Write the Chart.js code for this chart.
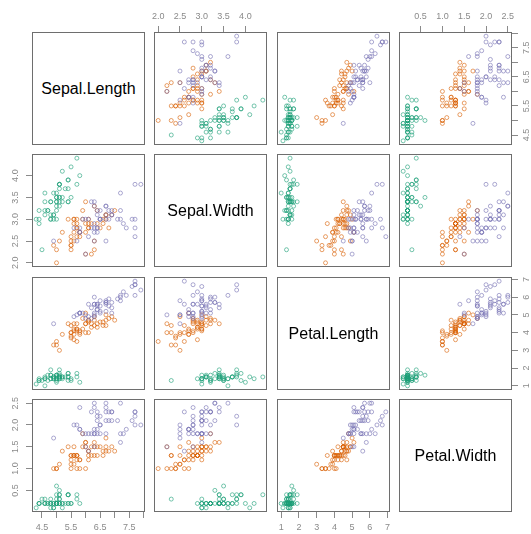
<!DOCTYPE html>
<html>
<head>
<meta charset="utf-8">
<script src="https://cdn.jsdelivr.net/npm/chart.js@4"></script>
<style>
  body { margin: 0; background: #fff; }
  #wrap { position: relative; width: 531px; height: 534px; font-family: "Liberation Sans", Arial, sans-serif; }
  #wrap canvas { position: absolute; }
  .diag {
    position: absolute; box-sizing: border-box; border: 1px solid #6e6e6e;
    display: flex; align-items: center; justify-content: center;
    font-size: 16px; color: #000;
  }
</style>
</head>
<body>
<div id="wrap"></div>
<script>
const varNames = ["Sepal.Length", "Sepal.Width", "Petal.Length", "Petal.Width"];
const species = ["setosa", "versicolor", "virginica"];
const perSpecies = 50;
const speciesColors = ["27,158,119", "217,95,2", "117,112,179"];

const sepalLength = [
  5.1,4.9,4.7,4.6,5.0,5.4,4.6,5.0,4.4,4.9,5.4,4.8,4.8,4.3,5.8,5.7,5.4,5.1,5.7,5.1,5.4,5.1,4.6,5.1,4.8,
  5.0,5.0,5.2,5.2,4.7,4.8,5.4,5.2,5.5,4.9,5.0,5.5,4.9,4.4,5.1,5.0,4.5,4.4,5.0,5.1,4.8,5.1,4.6,5.3,5.0,
  7.0,6.4,6.9,5.5,6.5,5.7,6.3,4.9,6.6,5.2,5.0,5.9,6.0,6.1,5.6,6.7,5.6,5.8,6.2,5.6,5.9,6.1,6.3,6.1,6.4,
  6.6,6.8,6.7,6.0,5.7,5.5,5.5,5.8,6.0,5.4,6.0,6.7,6.3,5.6,5.5,5.5,6.1,5.8,5.0,5.6,5.7,5.7,6.2,5.1,5.7,
  6.3,5.8,7.1,6.3,6.5,7.6,4.9,7.3,6.7,7.2,6.5,6.4,6.8,5.7,5.8,6.4,6.5,7.7,7.7,6.0,6.9,5.6,7.7,6.3,6.7,
  7.2,6.2,6.1,6.4,7.2,7.4,7.9,6.4,6.3,6.1,7.7,6.3,6.4,6.0,6.9,6.7,6.9,5.8,6.8,6.7,6.7,6.3,6.5,6.2,5.9
];
const sepalWidth = [
  3.5,3.0,3.2,3.1,3.6,3.9,3.4,3.4,2.9,3.1,3.7,3.4,3.0,3.0,4.0,4.4,3.9,3.5,3.8,3.8,3.4,3.7,3.6,3.3,3.4,
  3.0,3.4,3.5,3.4,3.2,3.1,3.4,4.1,4.2,3.1,3.2,3.5,3.6,3.0,3.4,3.5,2.3,3.2,3.5,3.8,3.0,3.8,3.2,3.7,3.3,
  3.2,3.2,3.1,2.3,2.8,2.8,3.3,2.4,2.9,2.7,2.0,3.0,2.2,2.9,2.9,3.1,3.0,2.7,2.2,2.5,3.2,2.8,2.5,2.8,2.9,
  3.0,2.8,3.0,2.9,2.6,2.4,2.4,2.7,2.7,3.0,3.4,3.1,2.3,3.0,2.5,2.6,3.0,2.6,2.3,2.7,3.0,2.9,2.9,2.5,2.8,
  3.3,2.7,3.0,2.9,3.0,3.0,2.5,2.9,2.5,3.6,3.2,2.7,3.0,2.5,2.8,3.2,3.0,3.8,2.6,2.2,3.2,2.8,2.8,2.7,3.3,
  3.2,2.8,3.0,2.8,3.0,2.8,3.8,2.8,2.8,2.6,3.0,3.4,3.1,3.0,3.1,3.1,3.1,2.7,3.2,3.3,3.0,2.5,3.0,3.4,3.0
];
const petalLength = [
  1.4,1.4,1.3,1.5,1.4,1.7,1.4,1.5,1.4,1.5,1.5,1.6,1.4,1.1,1.2,1.5,1.3,1.4,1.7,1.5,1.7,1.5,1.0,1.7,1.9,
  1.6,1.6,1.5,1.4,1.6,1.6,1.5,1.5,1.4,1.5,1.2,1.3,1.4,1.3,1.5,1.3,1.3,1.3,1.6,1.9,1.4,1.6,1.4,1.5,1.4,
  4.7,4.5,4.9,4.0,4.6,4.5,4.7,3.3,4.6,3.9,3.5,4.2,4.0,4.7,3.6,4.4,4.5,4.1,4.5,3.9,4.8,4.0,4.9,4.7,4.3,
  4.4,4.8,5.0,4.5,3.5,3.8,3.7,3.9,5.1,4.5,4.5,4.7,4.4,4.1,4.0,4.4,4.6,4.0,3.3,4.2,4.2,4.2,4.3,3.0,4.1,
  6.0,5.1,5.9,5.6,5.8,6.6,4.5,6.3,5.8,6.1,5.1,5.3,5.5,5.0,5.1,5.3,5.5,6.7,6.9,5.0,5.7,4.9,6.7,4.9,5.7,
  6.0,4.8,4.9,5.6,5.8,6.1,6.4,5.6,5.1,5.6,6.1,5.6,5.5,4.8,5.4,5.6,5.1,5.1,5.9,5.7,5.2,5.0,5.2,5.4,5.1
];
const petalWidth = [
  0.2,0.2,0.2,0.2,0.2,0.4,0.3,0.2,0.2,0.1,0.2,0.2,0.1,0.1,0.2,0.4,0.4,0.3,0.3,0.3,0.2,0.4,0.2,0.5,0.2,
  0.2,0.4,0.2,0.2,0.2,0.2,0.4,0.1,0.2,0.2,0.2,0.2,0.1,0.2,0.2,0.3,0.3,0.2,0.6,0.4,0.3,0.2,0.2,0.2,0.2,
  1.4,1.5,1.5,1.3,1.5,1.3,1.6,1.0,1.3,1.4,1.0,1.5,1.0,1.4,1.3,1.4,1.5,1.0,1.5,1.1,1.8,1.3,1.5,1.2,1.3,
  1.4,1.4,1.7,1.5,1.0,1.1,1.0,1.2,1.6,1.5,1.6,1.5,1.3,1.3,1.3,1.2,1.4,1.2,1.0,1.3,1.2,1.3,1.3,1.1,1.3,
  2.5,1.9,2.1,1.8,2.2,2.1,1.7,1.8,1.8,2.5,2.0,1.9,2.1,2.0,2.4,2.3,1.8,2.2,2.3,1.5,2.3,2.0,2.0,1.8,2.1,
  1.8,1.8,1.8,2.1,1.6,1.9,2.0,2.2,1.5,1.4,2.3,2.4,1.8,1.8,2.1,2.4,2.3,1.9,2.3,2.5,2.3,1.9,2.0,2.3,1.8
];

// tick positions and the labels printed beside them (blank = tick only)
const ticksSL = [4.5, 5, 5.5, 6, 6.5, 7, 7.5, 8];
const labelsSL = ["4.5", "", "5.5", "", "6.5", "", "7.5", ""];
const ticksSW = [2, 2.5, 3, 3.5, 4];
const labelsSW = ["2.0", "2.5", "3.0", "3.5", "4.0"];
const ticksPL = [1, 2, 3, 4, 5, 6, 7];
const labelsPL = ["1", "2", "3", "4", "5", "6", "7"];
const ticksPW = [0.5, 1, 1.5, 2, 2.5];
const labelsPW = ["0.5", "1.0", "1.5", "2.0", "2.5"];

const columns = [sepalLength, sepalWidth, petalLength, petalWidth];
const tickValues = [ticksSL, ticksSW, ticksPL, ticksPW];
const tickLabels = [labelsSL, labelsSW, labelsPL, labelsPW];

// panel grid geometry
const panelPos = [32, 154, 277, 399];
const SIZE = 113;
const PAD = 30;
const tickColor = "#8a8a8a";

// data range padded by 4% on each side
const ranges = columns.map(col => {
  const lo = Math.min(...col), hi = Math.max(...col);
  const ext = (hi - lo) * 0.04;
  return [lo - ext, hi + ext];
});

const frame = {
  id: "frame",
  afterDraw(chart) {
    const a = chart.chartArea, ctx = chart.ctx;
    ctx.save();
    ctx.strokeStyle = "#6e6e6e";
    ctx.lineWidth = 1;
    ctx.strokeRect(Math.round(a.left) + 0.5, Math.round(a.top) + 0.5,
                   Math.round(a.width) - 1, Math.round(a.height) - 1);
    ctx.restore();
  }
};

// vertical axes: labels rotated to read bottom-to-top
const yLabels = {
  id: "yLabels",
  afterDraw(chart) {
    const s = chart.scales.y;
    if (!s.options.display) return;
    const a = chart.chartArea, ctx = chart.ctx;
    const x = s.position === "left" ? a.left - 16 : a.right + 15;
    ctx.save();
    ctx.fillStyle = tickColor;
    ctx.font = '9px "Liberation Sans", Arial, sans-serif';
    ctx.textAlign = "center";
    ctx.textBaseline = "middle";
    s.ticks.forEach(t => {
      if (!t.label) return;
      ctx.save();
      ctx.translate(x, s.getPixelForValue(t.value));
      ctx.rotate(-Math.PI / 2);
      ctx.fillText(t.label, 0, 0);
      ctx.restore();
    });
    ctx.restore();
  }
};

function axis(v, pos, isX) {
  const [lo, hi] = ranges[v];
  const size = pos ? PAD : 0;
  return {
    type: "linear",
    min: lo,
    max: hi,
    position: pos || (isX ? "bottom" : "left"),
    display: !!pos,
    afterBuildTicks: s => { s.ticks = tickValues[v].map(t => ({ value: t })); },
    afterFit: s => { if (isX) s.height = size; else s.width = size; },
    grid: { drawOnChartArea: false, drawTicks: true, tickLength: 6, color: tickColor, lineWidth: 1 },
    border: { display: false },
    ticks: {
      display: isX,
      autoSkip: false,
      maxRotation: 0,
      color: tickColor,
      padding: 4,
      font: { size: 9, family: '"Liberation Sans", Arial, sans-serif' },
      callback: (val, i) => tickLabels[v][i]
    }
  };
}

const wrap = document.getElementById("wrap");

function makePanel(r, c) {
  const canvas = document.createElement("canvas");
  canvas.width = SIZE + 2 * PAD;
  canvas.height = SIZE + 2 * PAD;
  canvas.style.left = (panelPos[c] - PAD) + "px";
  canvas.style.top = (panelPos[r] - PAD) + "px";
  wrap.appendChild(canvas);

  // R pairs() style: alternating outer axes
  const xPos = (r === 0 && c % 2 === 1) ? "top" : (r === 3 && c % 2 === 0) ? "bottom" : null;
  const yPos = (c === 0 && r % 2 === 1) ? "left" : (c === 3 && r % 2 === 0) ? "right" : null;

  const xs = columns[c], ys = columns[r];
  const datasets = species.map((name, k) => {
    const pts = [];
    for (let i = k * perSpecies; i < (k + 1) * perSpecies; i++) pts.push({ x: xs[i], y: ys[i] });
    return {
      label: name,
      data: pts,
      order: 2 - k,
      pointRadius: 2,
      pointHoverRadius: 2,
      borderWidth: 1,
      borderColor: "rgba(" + speciesColors[k] + ",0.6)",
      backgroundColor: "rgba(0,0,0,0)"
    };
  });

  new Chart(canvas, {
    type: "scatter",
    data: { datasets },
    options: {
      responsive: false,
      animation: false,
      events: [],
      layout: {
        padding: {
          top: xPos === "top" ? 0 : PAD,
          bottom: xPos === "bottom" ? 0 : PAD,
          left: yPos === "left" ? 0 : PAD,
          right: yPos === "right" ? 0 : PAD
        }
      },
      plugins: { legend: { display: false }, tooltip: { enabled: false } },
      scales: { x: axis(c, xPos, true), y: axis(r, yPos, false) }
    },
    plugins: [frame, yLabels]
  });
}

for (let r = 0; r < 4; r++) {
  for (let c = 0; c < 4; c++) {
    if (r === c) {
      const d = document.createElement("div");
      d.className = "diag";
      d.style.left = panelPos[c] + "px";
      d.style.top = panelPos[r] + "px";
      d.style.width = SIZE + "px";
      d.style.height = SIZE + "px";
      d.textContent = varNames[r];
      wrap.appendChild(d);
    } else {
      makePanel(r, c);
    }
  }
}
</script>
</body>
</html>
